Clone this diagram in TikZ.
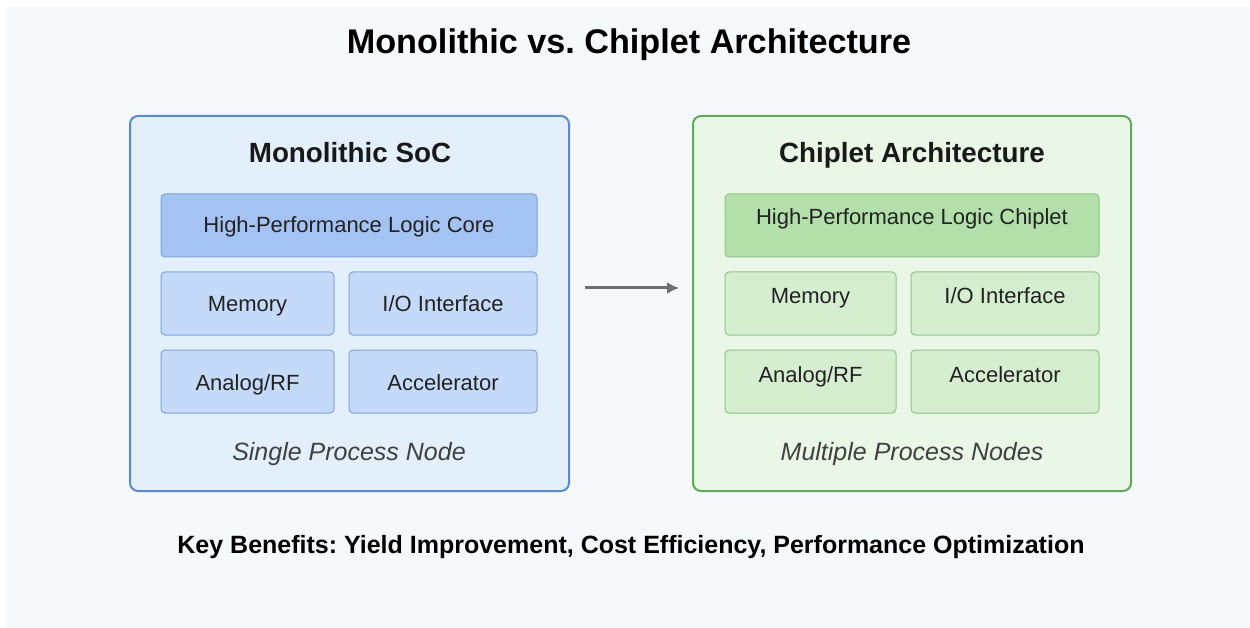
\documentclass[tikz,border=0pt]{standalone}
\usepackage{fontspec}
\setmainfont{Liberation Sans}
\usetikzlibrary{arrows.meta}
\frenchspacing
\begin{document}
\begin{tikzpicture}[x=1pt,y=-1pt,
  page/.style={fill=bgpanel,draw=none},
  outerbox/.style={rounded corners=8pt,line width=2pt},
  blueouter/.style={outerbox,draw=blueedge,fill=bluepanel},
  greenouter/.style={outerbox,draw=greenedge,fill=greenpanel},
  chip/.style={rounded corners=4pt,line width=1pt},
  bluecore/.style={chip,draw=bluechipedge,fill=bluecorefill},
  bluechip/.style={chip,draw=bluechipedge,fill=bluechipfill},
  greencore/.style={chip,draw=greenchipedge,fill=greencorefill},
  greenchip/.style={chip,draw=greenchipedge,fill=greenchipfill},
  chiplabel/.style={font=\fontsize{22}{26}\selectfont,text=labeltext,anchor=base},
  boxtitle/.style={font=\fontsize{27.8}{32}\selectfont\bfseries,text=black!90,anchor=base},
  nodenote/.style={font=\fontsize{25}{30}\selectfont\itshape,text=notetext,anchor=base},
  flow/.style={draw=arrowgray,line width=3pt,-{Latex[length=12pt,width=12pt]}}
]
\definecolor{bgpanel}{HTML}{F5F9FC}
\definecolor{bluepanel}{HTML}{E4EFFC}
\definecolor{blueedge}{HTML}{5B8BC9}
\definecolor{bluecorefill}{HTML}{A4C3F2}
\definecolor{bluechipfill}{HTML}{C4DAF8}
\definecolor{bluechipedge}{HTML}{7FA4D8}
\definecolor{greenpanel}{HTML}{EAF7E7}
\definecolor{greenedge}{HTML}{62A85C}
\definecolor{greencorefill}{HTML}{B3E0AA}
\definecolor{greenchipfill}{HTML}{D6EED0}
\definecolor{greenchipedge}{HTML}{8DC486}
\definecolor{labeltext}{HTML}{222222}
\definecolor{notetext}{HTML}{404040}
\definecolor{arrowgray}{HTML}{6E6E6E}

% canvas and panel
\useasboundingbox (0,0) rectangle (1250,628);
\fill[white] (0,0) rectangle (1250,628);
\path[page] (6,7) rectangle (1250,628);

% heading
\node[font=\fontsize{34.2}{40}\selectfont\bfseries,anchor=base] (heading) at (629,54) {Monolithic vs.\ Chiplet Architecture};

% monolithic SoC
\draw[blueouter] (130,116) rectangle (569,491);
\coordinate (monoL) at (130,288);
\coordinate (monoR) at (569,288);
\node[boxtitle] (monotitle) at (350,163) {Monolithic SoC};
\draw[bluecore] (161,194) rectangle (537,257);
\node[chiplabel] (monocore) at (349,233) {High-Performance Logic Core};
\draw[bluechip] (161,272) rectangle (334,335);
\node[chiplabel] (monomem) at (247.5,312) {Memory};
\draw[bluechip] (349,272) rectangle (537,335);
\node[chiplabel] (monoio) at (443,312) {I/O Interface};
\draw[bluechip] (161,350) rectangle (334,413);
\node[chiplabel] (monoanalog) at (247.5,390) {Analog/RF};
\draw[bluechip] (349,350) rectangle (537,413);
\node[chiplabel] (monoacc) at (443,390) {Accelerator};
\node[nodenote] (mononote) at (349,460) {Single Process Node};

% chiplet architecture
\draw[greenouter] (693,116) rectangle (1131,491);
\coordinate (chipL) at (693,288);
\node[boxtitle] (chiptitle) at (912,163) {Chiplet Architecture};
\draw[greencore] (725,194) rectangle (1099,257);
\node[chiplabel] (chipcore) at (912,225) {High-Performance Logic Chiplet};
\draw[greenchip] (725,272) rectangle (896,335);
\node[chiplabel] (chipmem) at (810.5,303) {Memory};
\draw[greenchip] (911,272) rectangle (1099,335);
\node[chiplabel] (chipio) at (1005,303) {I/O Interface};
\draw[greenchip] (725,350) rectangle (896,413);
\node[chiplabel] (chipanalog) at (810.5,382) {Analog/RF};
\draw[greenchip] (911,350) rectangle (1099,413);
\node[chiplabel] (chipacc) at (1005,382) {Accelerator};
\node[nodenote] (chipnote) at (912,460) {Multiple Process Nodes};

% transition arrow
\draw[flow] ([xshift=16pt]monoR) -- ([xshift=-14pt]chipL);

% footer
\node[font=\fontsize{25}{30}\selectfont\bfseries,anchor=base] (benefits) at (631,553) {Key Benefits: Yield Improvement, Cost Efficiency, Performance Optimization};
\end{tikzpicture}
\end{document}
